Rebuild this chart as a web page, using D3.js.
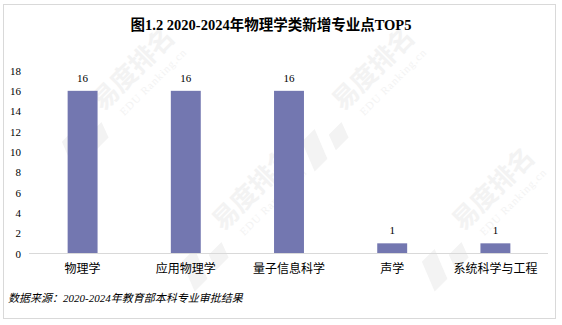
<!DOCTYPE html>
<html>
<head>
<meta charset="utf-8">
<script src="https://cdn.jsdelivr.net/npm/d3@7"></script>
<style>
	body { margin: 0; background: #fff; }
	svg text { font-family: "Liberation Serif", "Noto Sans CJK SC", serif; }
</style>
</head>
<body>
<svg id="chart"></svg>
<script>
var title      = "图1.2 2020-2024年物理学类新增专业点TOP5";
var source     = "数据来源：2020-2024年教育部本科专业审批结果";
var categories = [ "物理学", "应用物理学", "量子信息科学", "声学", "系统科学与工程" ];
var values     = [ 16, 16, 16, 1, 1 ];
var y_ticks    = [ 0, 2, 4, 6, 8, 10, 12, 14, 16, 18 ];

var W = 562, H = 325;

var svg = d3.select( "#chart" )
	.attr( "width", W )
	.attr( "height", H );

// faint watermark logos
var wm = svg.append( "g" ).attr( "class", "watermark" );
var tiles = [ [ 110, 105 ], [ 350, 105 ], [ 230, 225 ], [ 470, 225 ] ];
tiles.forEach(function(t){
	var g = wm.append( "g" ).attr( "transform", "translate(" + t[0] + "," + t[1] + ") rotate(-45)" );
	g.append( "path" ).attr( "d", "M-60,-8 L-42,-8 L-54,22 L-72,22 Z" ).attr( "fill", "#f3f3f3" );
	g.append( "path" ).attr( "d", "M-36,6 L-18,6 L-24,22 L-42,22 Z" ).attr( "fill", "#f3f3f3" );
	g.append( "text" ).attr( "x", -10 ).attr( "y", 0 )
		.style( "font-family", "Noto Sans CJK SC" ).style( "font-weight", "bold" ).style( "font-size", "26px" )
		.attr( "fill", "#f3f3f3" ).text( "易度排名" );
	g.append( "text" ).attr( "x", 2 ).attr( "y", 18 )
		.style( "font-size", "11px" ).style( "letter-spacing", "1px" )
		.attr( "fill", "#f3f3f3" ).text( "EDU Ranking.cn" );
});

// border
svg.append( "rect" )
	.attr( "x", 3.5 ).attr( "y", 4.5 )
	.attr( "width", 552 ).attr( "height", 314 )
	.attr( "fill", "none" )
	.attr( "stroke", "#d9d9d9" );

// title
svg.append( "text" )
	.attr( "x", 271 ).attr( "y", 30 )
	.attr( "text-anchor", "middle" )
	.style( "font-size", "14.5px" ).style( "font-weight", "bold" )
	.text( title );

var x = d3.scaleBand().domain( categories ).range([ 31, 547 ]).paddingInner( 0.71 ).paddingOuter( 0.355 );
var y = d3.scaleLinear().domain([ 0, 18 ]).range([ 253.5, 70.5 ]);

// Y axis
var y_axis = d3.axisLeft( y ).tickValues( y_ticks ).tickSize( 0 ).tickPadding( 0 );
var ya = svg.append( "g" )
	.attr( "transform", "translate(21,0)" )
	.call( y_axis );
ya.select( ".domain" ).remove();
ya.selectAll( "text" ).style( "font-size", "11px" ).attr( "fill", "#000" );

// bars
svg.append( "g" )
	.selectAll( "rect" )
	.data( values )
	.enter()
	.append( "rect" )
		.attr( "x", function(d, i){ return x( categories[i] ); })
		.attr( "y", function(d){ return y( d ); })
		.attr( "width", x.bandwidth() )
		.attr( "height", function(d){ return y( 0 ) - y( d ); })
		.attr( "fill", "#7377b0" );

// value labels
svg.append( "g" )
	.selectAll( "text" )
	.data( values )
	.enter()
	.append( "text" )
		.attr( "x", function(d, i){ return x( categories[i] ) + x.bandwidth() / 2; })
		.attr( "y", function(d){ return y( d ) - 9; })
		.attr( "text-anchor", "middle" )
		.style( "font-size", "11px" )
		.text( function(d){ return d; });

// X axis
var x_axis = d3.axisBottom( x ).tickSize( 0 ).tickPadding( 11 );
var xa = svg.append( "g" )
	.attr( "transform", "translate(0," + y( 0 ) + ")" )
	.call( x_axis );
xa.select( ".domain" ).attr( "stroke", "#d9d9d9" ).attr( "d", "M29,0H548" );
xa.selectAll( "text" )
	.style( "font-family", "Noto Sans CJK SC" )
	.style( "font-size", "12px" )
	.attr( "fill", "#000" );

// source
svg.append( "text" )
	.attr( "x", 8 ).attr( "y", 302 )
	.style( "font-size", "11px" ).style( "font-style", "italic" )
	.text( source );
</script>
</body>
</html>
